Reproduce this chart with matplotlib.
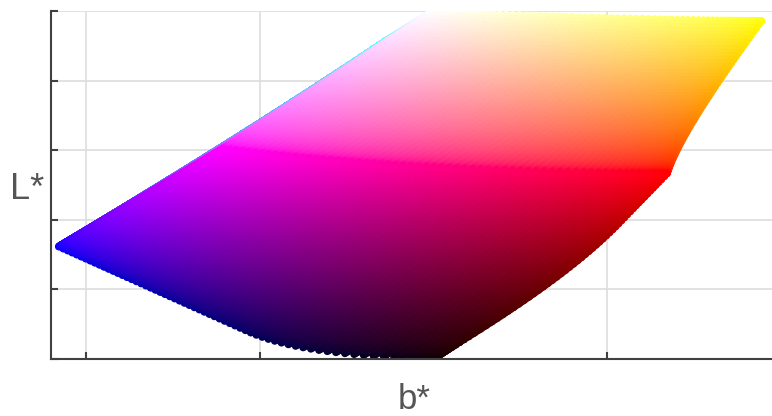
import numpy as np
import matplotlib
matplotlib.use("Agg")
import matplotlib.pyplot as plt

# Data: the sRGB colour cube sampled on a regular grid of channel levels,
# shown by its CIELAB b* (x) and L* (y) coordinates.
channel_levels = np.linspace(0.0, 1.0, 65)
x_ticks = [-100, -50, 0, 50]
y_ticks = [0, 20, 40, 60, 80, 100]
x_label = "b*"
y_label = "L*"

# sRGB (D65) -> CIELAB
R, G, B = np.meshgrid(channel_levels, channel_levels, channel_levels, indexing="ij")
rgb = np.stack([R.ravel(), G.ravel(), B.ravel()], axis=1)
lin = np.where(rgb <= 0.04045, rgb / 12.92, ((rgb + 0.055) / 1.055) ** 2.4)
M = np.array([[0.4124564, 0.3575761, 0.1804375],
              [0.2126729, 0.7151522, 0.0721750],
              [0.0193339, 0.1191920, 0.9503041]])
xyz = lin @ M.T
white = np.array([0.95047, 1.0, 1.08883])
t = xyz / white
d = 6 / 29
f = np.where(t > d ** 3, np.cbrt(t), t / (3 * d * d) + 4 / 29)
L = 116 * f[:, 1] - 16
bstar = 200 * (f[:, 1] - f[:, 2])

order = np.argsort(rgb[:, 0] - rgb[:, 1], kind="stable")

fig = plt.figure(figsize=(7.72, 4.16), dpi=100)
ax = fig.add_axes([51 / 772, 1 - 359 / 416, (772 - 51) / 772, (359 - 11) / 416])
ax.scatter(bstar[order], L[order], c=rgb[order], s=30, marker="o",
           edgecolors="none", zorder=2)
ax.set_xlim(-110.1, 97.5)
ax.set_ylim(0, 100)
ax.set_xticks(x_ticks)
ax.set_yticks(y_ticks)
ax.set_xticklabels([])
ax.set_yticklabels([])
ax.grid(True, color="#dddddd", linewidth=1.2, zorder=0)
ax.set_axisbelow(True)
for s in ["top", "right"]:
    ax.spines[s].set_visible(False)
for s in ["left", "bottom"]:
    ax.spines[s].set_color("#404040")
    ax.spines[s].set_linewidth(1.5)
ax.tick_params(direction="in", length=5, width=1.5, color="#404040")
fig.text(27 / 772, 1 - 199 / 416, y_label, fontsize=26, color="#555555",
         ha="center", va="baseline", family="Liberation Sans")
fig.text(414 / 772, 1 - 409 / 416, x_label, fontsize=25, color="#555555",
         ha="center", va="baseline", family="Liberation Sans")
fig.savefig("out.png", dpi=100)
